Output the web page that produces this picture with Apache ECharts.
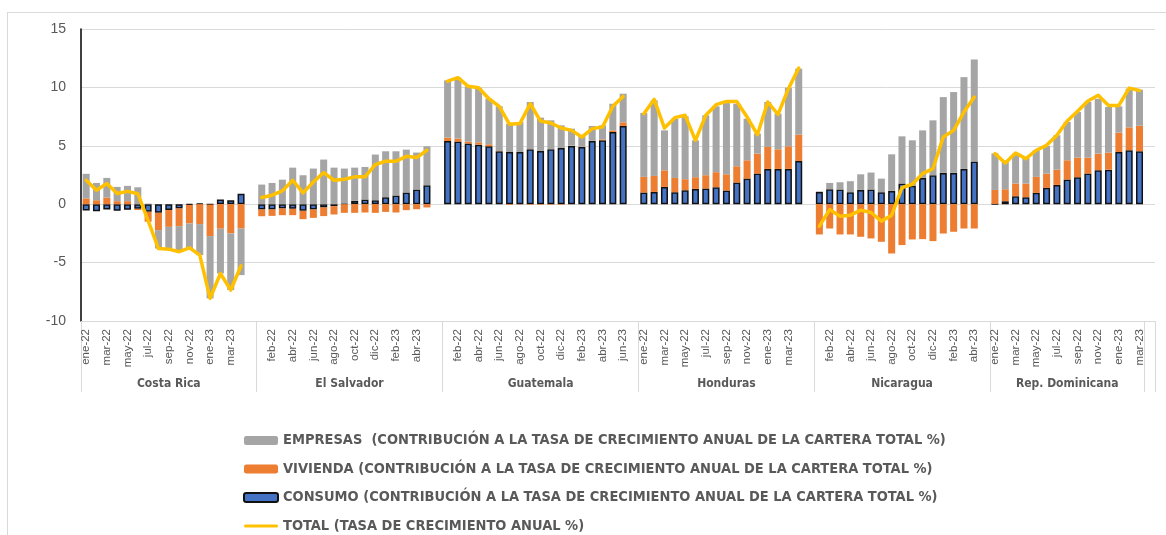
<!DOCTYPE html>
<html>
<head>
<meta charset="utf-8">
<script src="https://cdn.jsdelivr.net/npm/echarts@6/dist/echarts.min.js"></script>
<style>
  html, body { margin: 0; padding: 0; background: #fff; }
  #frame { position: absolute; left: 7px; top: 12px; width: 1170px; height: 540px;
           border-left: 1px solid #d9d9d9; border-top: 1px solid #d9d9d9; }
  #chart { position: absolute; left: 0; top: 0; width: 1166px; height: 535px; }
</style>
</head>
<body>
<div id="frame"></div>
<div id="chart"></div>
<script>
var countries = ['Costa Rica', 'El Salvador', 'Guatemala', 'Honduras', 'Nicaragua', 'Rep. Dominicana'];
var monthNames = ['ene-22', 'feb-22', 'mar-22', 'abr-22', 'may-22', 'jun-22', 'jul-22', 'ago-22', 'sep-22',
  'oct-22', 'nov-22', 'dic-22', 'ene-23', 'feb-23', 'mar-23', 'abr-23', 'may-23', 'jun-23'];
var yTicks = {min: -10, max: 15, step: 5};

// one row per country, in the order of countries
var consumo = [
  [-0.55, -0.6, -0.45, -0.57, -0.48, -0.4, -0.65, -0.74, -0.5, -0.37, -0.06, 0.05, -0.03, 0.4, 0.34, 0.9],
  [-0.46, -0.46, -0.37, -0.4, -0.57, -0.46, -0.28, -0.17, 0.05, 0.28, 0.4, 0.34, 0.6, 0.74, 1.0, 1.25, 1.62],
  [5.41, 5.36, 5.19, 5.1, 4.96, 4.53, 4.47, 4.47, 4.7, 4.56, 4.7, 4.81, 4.99, 4.9, 5.41, 5.47, 6.18, 6.7],
  [1.0, 1.05, 1.48, 1.03, 1.2, 1.31, 1.34, 1.45, 1.17, 1.85, 2.19, 2.62, 3.02, 3.02, 3.02, 3.7],
  [1.05, 1.28, 1.25, 1.03, 1.22, 1.25, 1.03, 1.14, 1.77, 1.57, 2.25, 2.48, 2.68, 2.68, 3.02, 3.65],
  [0.02, 0.26, 0.68, 0.6, 0.97, 1.4, 1.65, 2.11, 2.31, 2.62, 2.91, 2.96, 4.47, 4.62, 4.53]
];
var vivienda = [
  [0.5, 0.34, 0.57, 0.26, 0.26, -0.1, -0.85, -1.48, -1.44, -1.51, -1.59, -1.7, -2.7, -2.1, -2.5, -2.08],
  [-0.57, -0.54, -0.57, -0.54, -0.71, -0.71, -0.74, -0.71, -0.74, -0.74, -0.71, -0.74, -0.66, -0.71, -0.51, -0.43, -0.28],
  [0.29, 0.25, 0.17, 0.2, 0.17, 0.02, -0.05, -0.02, -0.05, -0.05, -0.05, -0.05, 0.02, 0.02, 0.02, 0.08, 0.14, 0.31],
  [1.34, 1.37, 1.42, 1.22, 0.94, 1.0, 1.14, 1.29, 1.39, 1.4, 1.57, 1.71, 1.88, 1.68, 1.94, 2.25],
  [-2.59, -2.08, -2.59, -2.59, -2.79, -2.93, -3.22, -4.22, -3.5, -3.02, -2.99, -3.16, -2.51, -2.36, -2.08, -2.08],
  [1.2, 1.02, 1.09, 1.17, 1.37, 1.22, 1.31, 1.65, 1.68, 1.37, 1.42, 1.46, 1.66, 1.96, 2.19]
];
var empresas = [
  [2.1, 1.48, 1.68, 1.22, 1.31, 1.45, 0.05, -1.57, -1.86, -2.19, -2.15, -2.66, -5.33, -3.83, -4.85, -3.99],
  [1.68, 1.82, 2.1, 3.13, 2.48, 3.05, 3.82, 3.13, 3.0, 2.85, 2.79, 3.91, 3.93, 3.79, 3.67, 3.17, 3.34],
  [4.9, 5.22, 4.73, 4.67, 3.9, 3.83, 2.42, 2.57, 4.05, 2.85, 2.48, 1.94, 1.46, 0.89, 1.27, 1.2, 2.28, 2.45],
  [5.47, 6.47, 3.42, 5.07, 5.38, 3.16, 5.13, 5.64, 6.1, 5.35, 3.56, 1.71, 3.85, 3.05, 5.01, 5.65],
  [0.05, 0.54, 0.63, 0.94, 1.34, 1.46, 1.16, 3.13, 4.04, 3.9, 4.07, 4.7, 6.49, 6.92, 7.86, 8.74],
  [3.13, 2.34, 2.56, 2.22, 2.28, 2.37, 2.94, 3.28, 3.9, 4.76, 4.7, 3.9, 2.25, 3.31, 3.08]
];
var total = [
  [2.05, 1.2, 1.77, 0.91, 1.1, 0.9, -1.4, -3.8, -3.85, -4.07, -3.73, -4.36, -8.06, -5.93, -7.35, -5.27],
  [0.57, 0.77, 1.14, 2.05, 0.97, 1.9, 2.7, 2.05, 2.14, 2.34, 2.34, 3.39, 3.68, 3.68, 4.1, 3.99, 4.62],
  [10.54, 10.83, 10.09, 9.97, 9.03, 8.38, 6.84, 6.9, 8.6, 7.12, 6.95, 6.52, 6.32, 5.75, 6.47, 6.61, 8.38, 9.23],
  [7.75, 8.97, 6.52, 7.41, 7.61, 5.47, 7.61, 8.52, 8.8, 8.8, 7.46, 5.95, 8.75, 7.69, 9.89, 11.65],
  [-1.88, -0.46, -1.03, -0.94, -0.51, -0.71, -1.45, -0.94, 1.42, 1.71, 2.62, 3.05, 5.75, 6.32, 7.89, 9.17],
  [4.33, 3.53, 4.39, 3.9, 4.62, 5.04, 5.9, 7.12, 7.95, 8.83, 9.32, 8.46, 8.46, 9.94, 9.74]
];

var names = {
  emp: 'EMPRESAS  (CONTRIBUCIÓN A LA TASA DE CRECIMIENTO ANUAL DE LA CARTERA TOTAL %)',
  viv: 'VIVIENDA (CONTRIBUCIÓN A LA TASA DE CRECIMIENTO ANUAL DE LA CARTERA TOTAL %)',
  con: 'CONSUMO (CONTRIBUCIÓN A LA TASA DE CRECIMIENTO ANUAL DE LA CARTERA TOTAL %)',
  tot: 'TOTAL (TASA DE CRECIMIENTO ANUAL %)'
};

// flatten into one category axis, with an empty slot after each country (like the excel sheet)
var monthLabels = [], conData = [], vivData = [], empData = [], totData = [];
var bounds = [];
for (var c = 0; c < countries.length; c++) {
  bounds.push(monthLabels.length);
  for (var i = 0; i < total[c].length; i++) {
    monthLabels.push(monthNames[i]);
    conData.push(consumo[c][i]);
    vivData.push(vivienda[c][i]);
    empData.push(empresas[c][i]);
    totData.push(total[c][i]);
  }
  if (c == countries.length - 1) bounds.push(monthLabels.length);
  monthLabels.push('');
  conData.push(null); vivData.push(null); empData.push(null); totData.push(null);
}

// second axis carries the country names at the middle of each block
var groupLabels = monthLabels.map(function () { return ''; });
for (var g = 0; g < countries.length; g++) {
  var n = bounds[g + 1] - bounds[g];
  var mid = bounds[g] + Math.floor((n - 1) / 2);
  groupLabels[mid] = (n % 2 == 0) ? '{half|' + countries[g] + '}' : countries[g];
}

var txt = '#595959';
var font = "'Liberation Sans', Arial, sans-serif";
var narrow = "'Liberation Sans Narrow', 'Arial Narrow', 'DejaVu Sans Condensed', sans-serif";

var chart = echarts.init(document.getElementById('chart'));
chart.setOption({
  animation: false,
  grid: {left: 81, right: 11, top: 29, bottom: 214, containLabel: false},
  legend: {
    orient: 'vertical',
    left: 243,
    top: 433,
    height: 110,
    padding: 0,
    itemWidth: 34,
    itemHeight: 9,
    itemGap: 13.5,
    selectedMode: false,
    textStyle: {fontFamily: narrow, fontWeight: 'bold', fontSize: 14.5, color: txt},
    data: [names.emp, names.viv, names.con,
      {name: names.tot, icon: 'path://M1.5,0 H32.5 A1.5,1.5 0 0 1 32.5,3 H1.5 A1.5,1.5 0 0 1 1.5,0 Z'}]
  },
  xAxis: [{
    type: 'category',
    data: monthLabels,
    axisLine: {show: false},
    axisTick: {show: false},
    axisLabel: {interval: 1, rotate: 90, margin: 8, fontFamily: font, fontSize: 11.5, color: txt}
  }, {
    type: 'category',
    position: 'bottom',
    data: groupLabels,
    axisLine: {show: false},
    axisTick: {
      show: true,
      length: 71,
      lineStyle: {color: '#d9d9d9'},
      interval: function (idx) { return bounds.indexOf(idx) >= 0; }
    },
    axisLabel: {
      margin: 57,
      fontFamily: narrow, fontSize: 12, fontWeight: 'bold', color: txt,
      interval: function (idx, val) { return val !== ''; },
      rich: {half: {padding: [0, 0, 0, 10.3], fontFamily: narrow, fontSize: 12, fontWeight: 'bold', color: txt}}
    }
  }],
  yAxis: {
    type: 'value',
    min: yTicks.min,
    max: yTicks.max,
    interval: yTicks.step,
    axisLine: {show: true, lineStyle: {color: '#000', width: 1.5}},
    axisTick: {show: false},
    axisLabel: {margin: 15, fontFamily: font, fontSize: 14, color: txt},
    splitLine: {lineStyle: {color: '#d9d9d9'}}
  },
  series: [{
    name: names.con,
    type: 'bar',
    stack: 'cartera',
    data: conData,
    barCategoryGap: '32%',
    itemStyle: {color: '#4472C4', borderColor: '#111', borderWidth: 1.5}
  }, {
    name: names.viv,
    type: 'bar',
    stack: 'cartera',
    data: vivData,
    itemStyle: {color: '#ED7D31'}
  }, {
    name: names.emp,
    type: 'bar',
    stack: 'cartera',
    data: empData,
    itemStyle: {color: '#A5A5A5'}
  }, {
    name: names.tot,
    type: 'line',
    data: totData,
    symbol: 'none',
    connectNulls: false,
    z: 5,
    lineStyle: {color: '#FFC000', width: 3.5, cap: 'round', join: 'round'},
    itemStyle: {color: '#FFC000'}
  }]
});
</script>
</body>
</html>
